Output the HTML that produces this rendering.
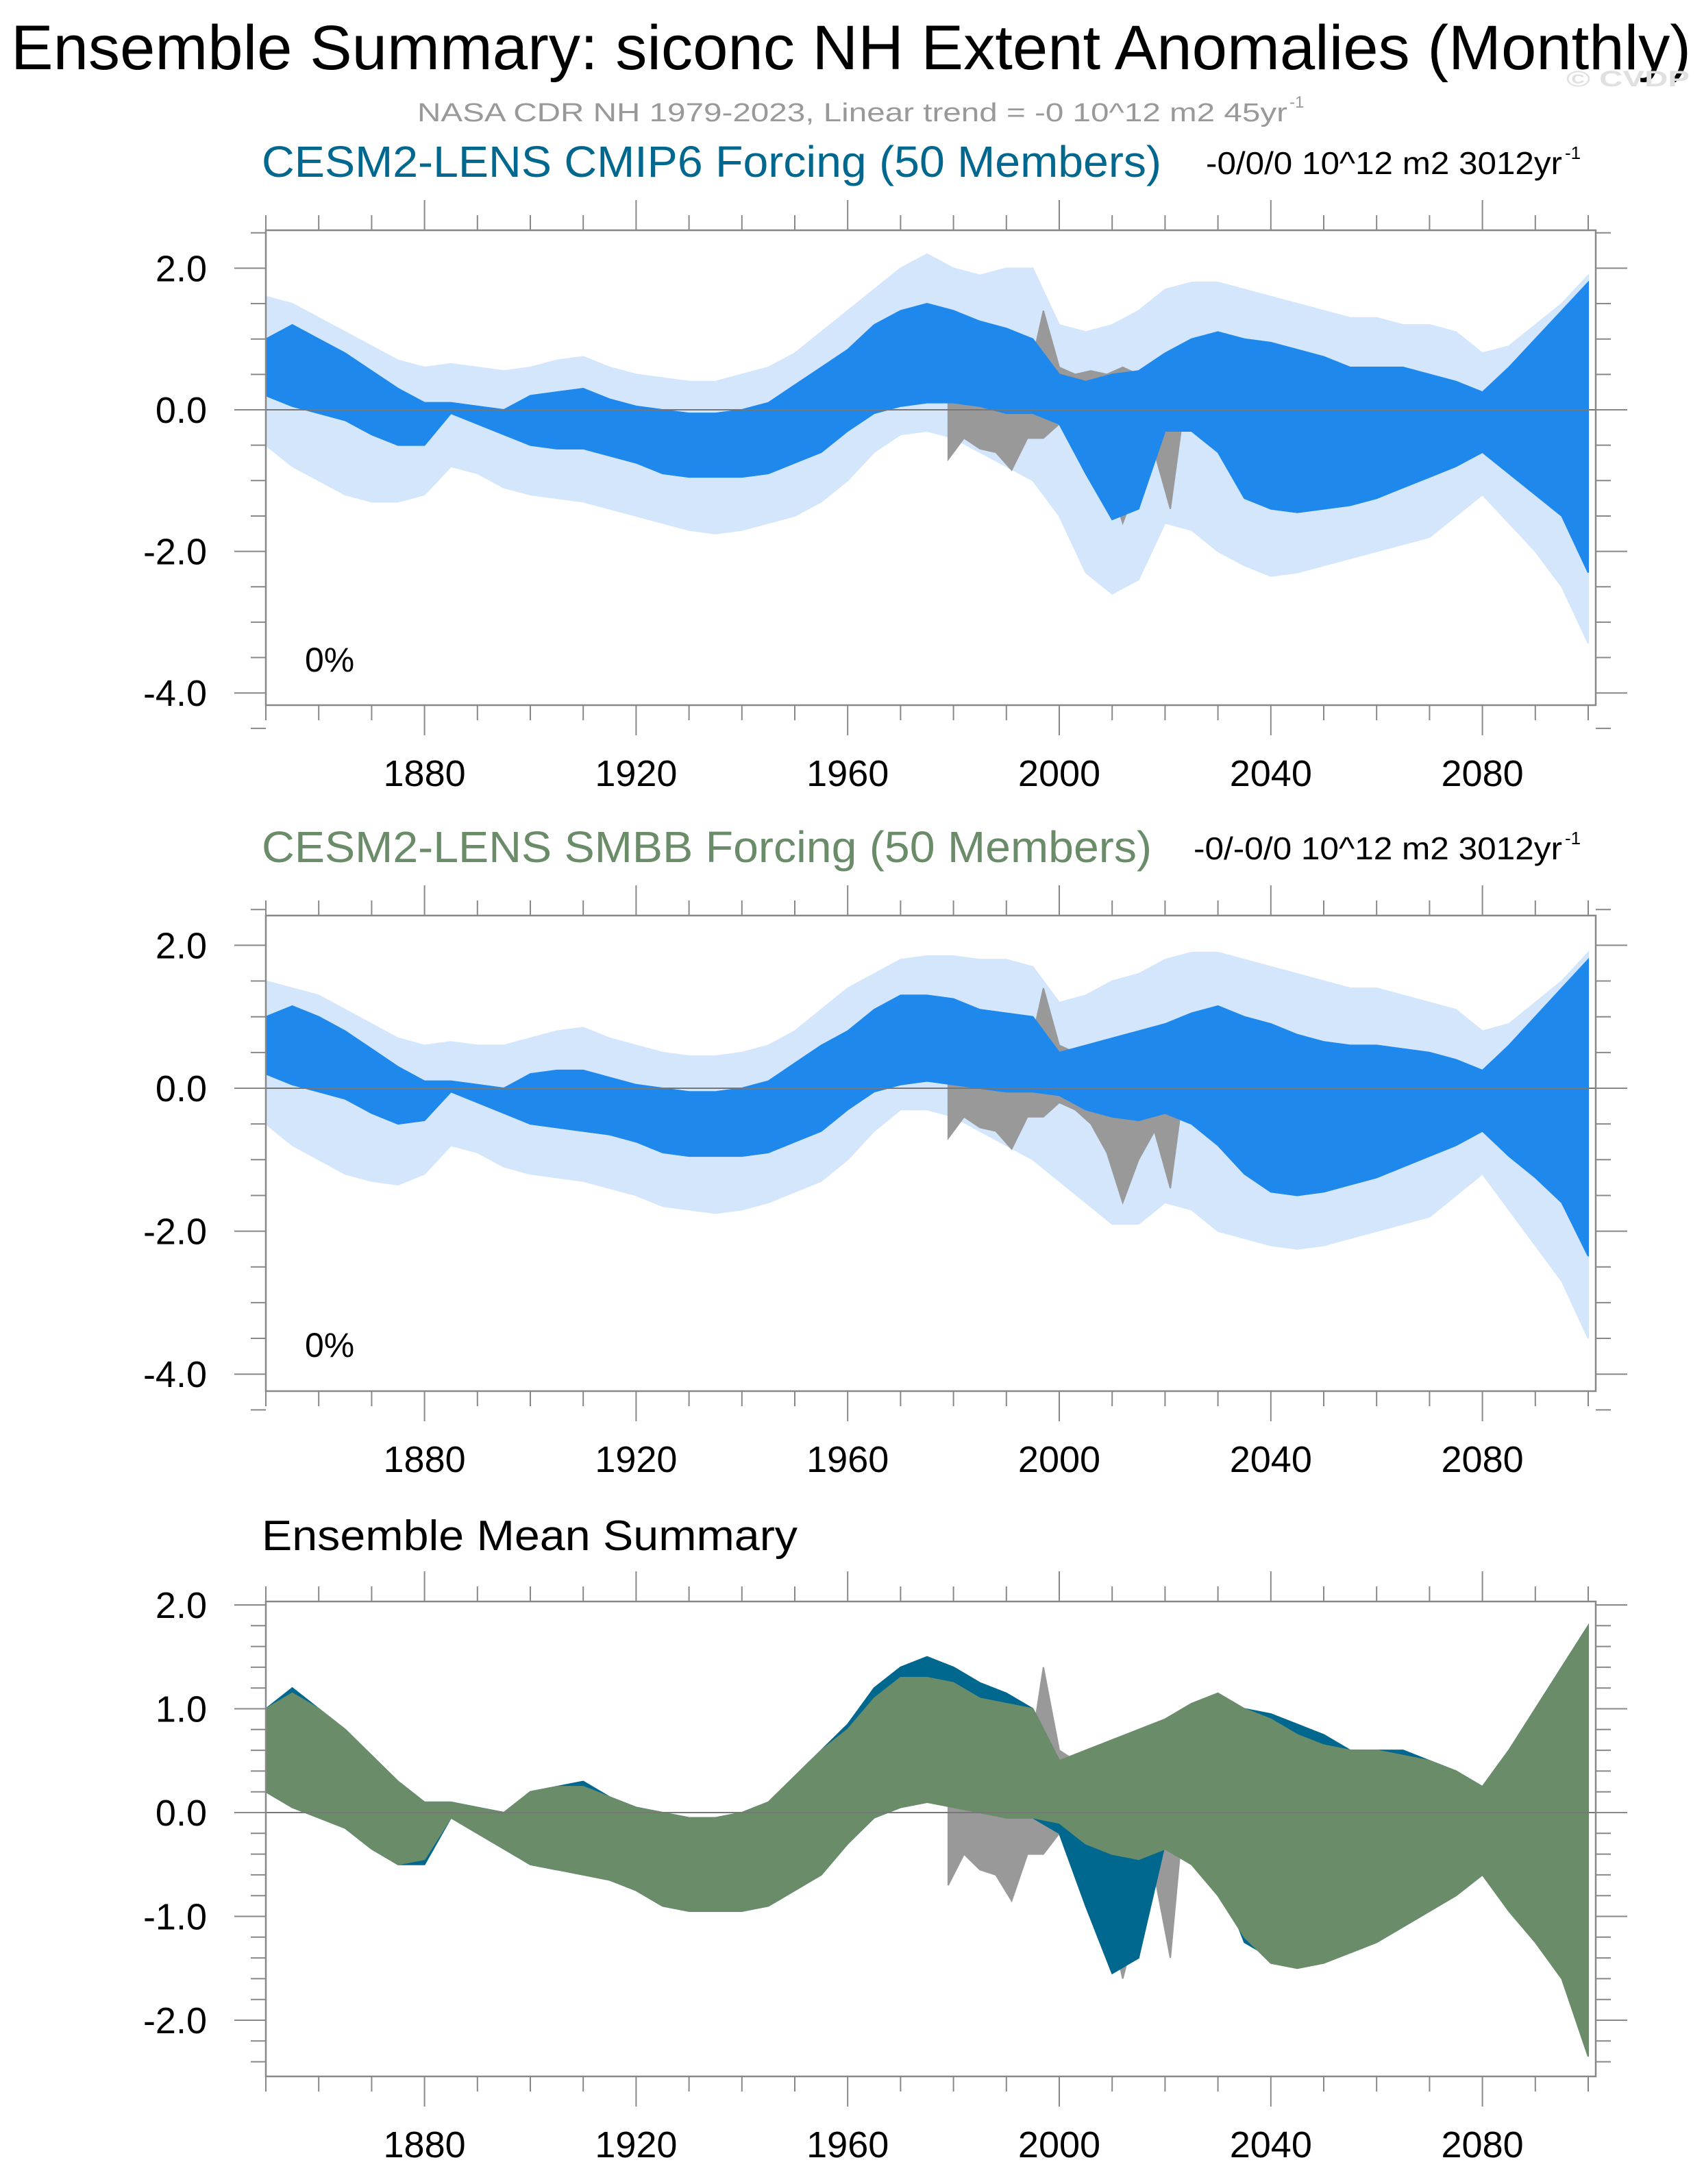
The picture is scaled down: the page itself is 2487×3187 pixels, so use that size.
<!DOCTYPE html>
<html><head><meta charset="utf-8">
<style>
html,body{margin:0;padding:0;background:#fff;}
svg{display:block;}
text{font-family:"Liberation Sans",Arial,sans-serif;}
</style></head>
<body>
<svg id="chart" width="2487" height="3187" viewBox="0 0 2487 3187" xmlns="http://www.w3.org/2000/svg">
<rect width="2487" height="3187" fill="#fff"/>
<text x="16" y="101" font-size="92" textLength="2452" lengthAdjust="spacingAndGlyphs" fill="#000">Ensemble Summary: siconc NH Extent Anomalies (Monthly)</text>
<text x="2286" y="126" font-size="32" textLength="180" lengthAdjust="spacingAndGlyphs" fill="#e0e0e0" font-weight="bold">© CVDP</text>
<text x="609" y="177" font-size="38" textLength="1270" lengthAdjust="spacingAndGlyphs" fill="#999">NASA CDR NH 1979-2023, Linear trend = -0 10^12 m2 45yr</text>
<text x="1882" y="157" font-size="24" fill="#999">-1</text>
<g id="panels"></g>
</svg>
<script>
// ---- data (5-year steps 1850..2100) ----
const years = [1850,1855,1860,1865,1870,1875,1880,1885,1890,1895,1900,1905,1910,1915,1920,1925,1930,1935,1940,1945,1950,1955,1960,1965,1970,1975,1980,1985,1990,1995,2000,2005,2010,2015,2020,2025,2030,2035,2040,2045,2050,2055,2060,2065,2070,2075,2080,2085,2090,2095,2100];
const cmipHi = [1.0,1.2,1.0,0.8,0.55,0.3,0.1,0.1,0.05,0.0,0.2,0.25,0.3,0.15,0.05,0.0,-0.05,-0.05,0.0,0.1,0.35,0.6,0.85,1.2,1.4,1.5,1.4,1.25,1.15,1.0,0.5,0.4,0.5,0.55,0.8,1.0,1.1,1.0,0.95,0.85,0.75,0.6,0.6,0.6,0.5,0.4,0.25,0.6,1.0,1.4,1.8];
const cmipLo = [0.2,0.05,-0.05,-0.15,-0.35,-0.5,-0.5,-0.05,-0.2,-0.35,-0.5,-0.55,-0.55,-0.65,-0.75,-0.9,-0.95,-0.95,-0.95,-0.9,-0.75,-0.6,-0.3,-0.05,0.05,0.1,0.1,0.05,-0.05,-0.05,-0.2,-0.9,-1.55,-1.4,-0.3,-0.3,-0.6,-1.25,-1.4,-1.45,-1.4,-1.35,-1.25,-1.1,-0.95,-0.8,-0.6,-0.9,-1.2,-1.5,-2.3];
const smbbHi = [1.0,1.15,1.0,0.8,0.55,0.3,0.1,0.1,0.05,0.0,0.2,0.25,0.25,0.15,0.05,0.0,-0.05,-0.05,0.0,0.1,0.35,0.6,0.8,1.1,1.3,1.3,1.25,1.1,1.05,1.0,0.5,0.6,0.7,0.8,0.9,1.05,1.15,1.0,0.9,0.75,0.65,0.6,0.6,0.55,0.5,0.4,0.25,0.6,1.0,1.4,1.8];
const smbbLo = [0.2,0.05,-0.05,-0.15,-0.35,-0.5,-0.45,-0.05,-0.2,-0.35,-0.5,-0.55,-0.6,-0.65,-0.75,-0.9,-0.95,-0.95,-0.95,-0.9,-0.75,-0.6,-0.3,-0.05,0.05,0.1,0.05,0.0,-0.05,-0.05,-0.1,-0.3,-0.4,-0.45,-0.35,-0.5,-0.8,-1.2,-1.45,-1.5,-1.45,-1.35,-1.25,-1.1,-0.95,-0.8,-0.6,-0.95,-1.25,-1.6,-2.35];
const cmipSprHi = [1.6,1.5,1.3,1.1,0.9,0.7,0.6,0.65,0.6,0.55,0.6,0.7,0.75,0.6,0.5,0.45,0.4,0.4,0.5,0.6,0.8,1.1,1.4,1.7,2.0,2.2,2.0,1.9,2.0,2.0,1.2,1.1,1.2,1.4,1.7,1.8,1.8,1.7,1.6,1.5,1.4,1.3,1.3,1.2,1.2,1.1,0.8,0.9,1.2,1.5,1.9];
const cmipSprLo = [-0.5,-0.8,-1.0,-1.2,-1.3,-1.3,-1.2,-0.8,-0.9,-1.1,-1.2,-1.25,-1.3,-1.4,-1.5,-1.6,-1.7,-1.75,-1.7,-1.6,-1.5,-1.3,-1.0,-0.6,-0.35,-0.3,-0.4,-0.6,-0.8,-1.0,-1.5,-2.3,-2.6,-2.4,-1.6,-1.7,-2.0,-2.2,-2.35,-2.3,-2.2,-2.1,-2.0,-1.9,-1.8,-1.5,-1.2,-1.6,-2.0,-2.5,-3.3];
const smbbSprHi = [1.5,1.4,1.3,1.1,0.9,0.7,0.6,0.65,0.6,0.6,0.7,0.8,0.85,0.7,0.6,0.5,0.45,0.45,0.5,0.6,0.8,1.1,1.4,1.6,1.8,1.85,1.85,1.8,1.8,1.7,1.2,1.3,1.5,1.6,1.8,1.9,1.9,1.8,1.7,1.6,1.5,1.4,1.4,1.3,1.2,1.1,0.8,0.9,1.2,1.5,1.9];
const smbbSprLo = [-0.5,-0.8,-1.0,-1.2,-1.3,-1.35,-1.2,-0.8,-0.9,-1.1,-1.2,-1.25,-1.3,-1.4,-1.5,-1.65,-1.7,-1.75,-1.7,-1.6,-1.45,-1.3,-1.0,-0.6,-0.3,-0.3,-0.4,-0.6,-0.8,-1.0,-1.3,-1.6,-1.9,-1.9,-1.6,-1.7,-2.0,-2.1,-2.2,-2.25,-2.2,-2.1,-2.0,-1.9,-1.8,-1.5,-1.2,-1.7,-2.2,-2.7,-3.5];
const obsYears = [1979,1982,1985,1988,1991,1994,1997,2000,2003,2006,2009,2012,2015,2018,2021,2023];
const obsHi = [0.2,0.25,0.3,0.3,0.3,0.4,1.4,0.6,0.5,0.55,0.5,0.6,0.5,0.6,0.6,0.4];
const obsLo = [-0.7,-0.4,-0.55,-0.6,-0.85,-0.4,-0.4,-0.2,-0.3,-0.5,-0.9,-1.6,-1.0,-0.6,-1.4,-0.3];
const xTickLabels = ["1880","1920","1960","2000","2040","2080"];
const xTickYears = [1880,1920,1960,2000,2040,2080];
const yLabelsTop = [2,0,-2,-4];
const yLabelsBottom = [2,1,0,-1,-2];

const NS = "http://www.w3.org/2000/svg";
const root = document.getElementById("panels");
function mk(tag, attrs, parent){const e=document.createElementNS(NS,tag);for(const k in attrs)e.setAttribute(k,attrs[k]);(parent||root).appendChild(e);return e;}
const X0=388, XR=2329, PXY=7.72;
function xs(yr){return X0+(yr-1850)*PXY;}

function band(g, xsArr, hi, lo, ys, fill, name){
  let d="M"+xs(xsArr[0])+","+ys(hi[0]);
  for(let i=1;i<xsArr.length;i++) d+=" L"+xs(xsArr[i])+","+ys(hi[i]);
  for(let i=xsArr.length-1;i>=0;i--) d+=" L"+xs(xsArr[i])+","+ys(lo[i]);
  d+="Z";
  const p=mk("path",{d:d,fill:fill,stroke:fill,"stroke-width":2},g);
  
  
}

function panel(cfg){
  const g=mk("g",{});
  
  
  const ys=v=>cfg.y0-v*cfg.k;
  const cid="clip"+cfg.name;
  const cp=mk("clipPath",{id:cid},g); mk("rect",{x:X0,y:cfg.top,width:XR-X0,height:cfg.bot-cfg.top},cp);
  const dg=mk("g",{"clip-path":"url(#"+cid+")"},g);
  cfg.draw(dg,ys);
  const zl=mk("line",{x1:X0,x2:XR,y1:ys(0),y2:ys(0),stroke:"#777","stroke-width":2},g);
  
  
  const fr=mk("rect",{x:X0,y:cfg.top,width:XR-X0,height:cfg.bot-cfg.top,fill:"none",stroke:"#888","stroke-width":2.5},g);
  
  
  for(let yr=1850;yr<=2100;yr+=10){
    const maj=xTickYears.includes(yr); const L=maj?44:22; const x=xs(yr);
    mk("line",{x1:x,x2:x,y1:cfg.top,y2:cfg.top-L,stroke:"#888","stroke-width":2},g);
    mk("line",{x1:x,x2:x,y1:cfg.bot,y2:cfg.bot+L,stroke:"#888","stroke-width":2},g);
  }
  xTickYears.forEach((yr,i)=>{
    const t=mk("text",{x:xs(yr),y:cfg.bot+118,"font-size":54,"text-anchor":"middle",fill:"#000"},g);
    t.textContent=xTickLabels[i];
    
    
  });
  for(let v=cfg.ymaxTick;v>=cfg.yminTick-1e-9;v-=cfg.minor){
    const y=ys(v); const maj=Math.abs(v/cfg.major-Math.round(v/cfg.major))<1e-6; const L=maj?46:22;
    mk("line",{x1:X0,x2:X0-L,y1:y,y2:y,stroke:"#888","stroke-width":2},g);
    mk("line",{x1:XR,x2:XR+L,y1:y,y2:y,stroke:"#888","stroke-width":2},g);
  }
  cfg.labels.forEach(v=>{
    const t=mk("text",{x:302,y:ys(v)+19,"font-size":54,"text-anchor":"end",fill:"#000"},g);
    t.textContent=v.toFixed(1);
    
    
  });
  return g;
}

function obsBand(g,ys){band(g,obsYears,obsHi,obsLo,ys,"#999999","obs-series");}

panel({name:"cmip6-panel",top:336,bot:1029,y0:598,k:103.3,ymaxTick:2.5,yminTick:-4.5,minor:0.5,major:2,labels:yLabelsTop,
  draw:(g,ys)=>{band(g,years,cmipSprHi,cmipSprLo,ys,"#d3e6fb","cmip6-member-spread");obsBand(g,ys);band(g,years,cmipHi,cmipLo,ys,"#1e88ec","cmip6-ensemble-mean");}});
panel({name:"smbb-panel",top:1336,bot:2030,y0:1588,k:104.3,ymaxTick:2.5,yminTick:-4.5,minor:0.5,major:2,labels:yLabelsTop,
  draw:(g,ys)=>{band(g,years,smbbSprHi,smbbSprLo,ys,"#d3e6fb","smbb-member-spread");obsBand(g,ys);band(g,years,smbbHi,smbbLo,ys,"#1e88ec","smbb-ensemble-mean");}});
panel({name:"mean-summary-panel",top:2337,bot:3030,y0:2645,k:151.5,ymaxTick:2.0,yminTick:-2.4,minor:0.2,major:1,labels:yLabelsBottom,
  draw:(g,ys)=>{obsBand(g,ys);band(g,years,cmipHi,cmipLo,ys,"#00678f","cmip6-mean-line");band(g,years,smbbHi,smbbLo,ys,"#6a8c69","smbb-mean-line");}});

function txt(s,a,name){const t=mk("text",a);t.textContent=s;return t;}
txt("CESM2-LENS CMIP6 Forcing (50 Members)",{x:382,y:258,"font-size":64,textLength:1313,lengthAdjust:"spacingAndGlyphs",fill:"#00678f"},"cmip6-title");
txt("-0/0/0 10^12 m2 3012yr",{x:1760,y:254,"font-size":46,textLength:520,lengthAdjust:"spacingAndGlyphs",fill:"#000"},"cmip6-trend");
txt("-1",{x:2284,y:232,"font-size":26,fill:"#000"},"cmip6-trend-exp");
txt("0%",{x:445,y:980,"font-size":50,fill:"#000"},"cmip6-percent");
txt("CESM2-LENS SMBB Forcing (50 Members)",{x:382,y:1258,"font-size":64,textLength:1299,lengthAdjust:"spacingAndGlyphs",fill:"#6a8c69"},"smbb-title");
txt("-0/-0/0 10^12 m2 3012yr",{x:1742,y:1254,"font-size":46,textLength:538,lengthAdjust:"spacingAndGlyphs",fill:"#000"},"smbb-trend");
txt("-1",{x:2284,y:1232,"font-size":26,fill:"#000"},"smbb-trend-exp");
txt("0%",{x:445,y:1980,"font-size":50,fill:"#000"},"smbb-percent");
txt("Ensemble Mean Summary",{x:382,y:2262,"font-size":62,textLength:782,lengthAdjust:"spacingAndGlyphs",fill:"#000"},"mean-summary-title");
</script>
</body></html>
